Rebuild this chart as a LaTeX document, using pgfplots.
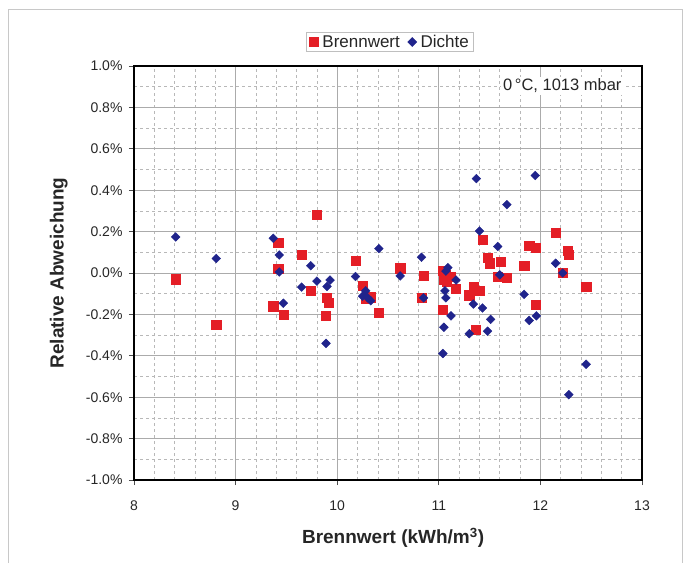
\documentclass[border=0pt]{standalone}
\usepackage{pgfplots}
\pgfplotsset{compat=1.18}
\usepackage{fontspec}
\setmainfont{Liberation Sans}
\definecolor{bwred}{RGB}{228,30,38}
\definecolor{dblue}{RGB}{32,36,140}
\definecolor{framegray}{RGB}{200,200,200}
\pgfplotstableread{
x y
8.41 -0.03
8.81 -0.25
9.37 -0.16
9.42 0.145
9.42 0.02
9.47 -0.20
9.65 0.087
9.74 -0.086
9.80 0.283
9.90 -0.12
9.92 -0.143
9.89 -0.207
10.18 0.061
10.25 -0.06
10.28 -0.126
10.33 -0.117
10.41 -0.19
10.62 0.023
10.85 -0.013
10.83 -0.12
11.04 0.01
11.05 -0.034
11.07 -0.01
11.08 -0.04
11.12 -0.016
11.17 -0.077
11.04 -0.176
11.30 -0.107
11.34 -0.068
11.40 -0.086
11.36 -0.273
11.43 0.162
11.48 0.074
11.50 0.047
11.58 -0.016
11.61 0.053
11.67 -0.022
11.84 0.035
11.89 0.131
11.95 0.123
11.95 -0.155
12.15 0.195
12.22 0.003
12.27 0.107
12.28 0.09
12.45 -0.065
}\brennwert
\pgfplotstableread{
x y
8.41 0.174
8.81 0.070
9.37 0.168
9.43 0.087
9.43 0.005
9.47 -0.146
9.65 -0.068
9.74 0.035
9.80 -0.039
9.90 -0.065
9.93 -0.034
9.89 -0.34
10.18 -0.017
10.25 -0.112
10.28 -0.086
10.30 -0.12
10.33 -0.134
10.41 0.118
10.62 -0.014
10.83 0.076
10.85 -0.12
11.04 -0.389
11.05 -0.262
11.06 -0.086
11.07 -0.12
11.07 0.009
11.09 0.026
11.12 -0.207
11.17 -0.034
11.30 -0.293
11.34 -0.15
11.37 0.456
11.40 0.203
11.43 -0.169
11.48 -0.281
11.51 -0.224
11.58 0.128
11.60 -0.009
11.67 0.330
11.84 -0.103
11.89 -0.229
11.95 0.471
11.96 -0.207
12.15 0.047
12.22 0.0
12.28 -0.588
12.45 -0.441
}\dichte
\begin{document}
\begin{tikzpicture}[x=1pt,y=1pt]
\useasboundingbox (0,0) rectangle (688,563);
\draw[framegray, line width=1pt] (8,0) -- (8,553) -- (682,553) -- (682,0);
\begin{axis}[
  at={(134pt,83pt)}, anchor=south west,
  scale only axis, width=508pt, height=414pt,
  xmin=8, xmax=13, ymin=-1, ymax=1,
  xtick={8,9,10,11,12,13},
  ytick={-1,-0.8,-0.6,-0.4,-0.2,0,0.2,0.4,0.6,0.8,1},
  yticklabels={-1.0\%,-0.8\%,-0.6\%,-0.4\%,-0.2\%,0.0\%,0.2\%,0.4\%,0.6\%,0.8\%,1.0\%},
  minor x tick num=4, minor y tick num=1,
  grid=both,
  major grid style={black!33, line width=0.7pt},
  minor grid style={black!28, line width=0.6pt, dash pattern=on 3pt off 3pt},
  axis line style={black, line width=1.8pt},
  tick align=outside, xtick pos=left, ytick pos=left,
  major tick length=5pt, minor tick length=0pt,
  tick style={black!70, line width=0.7pt},
  /pgf/number format/assume math mode=true,
  ticklabel style={font=\fontsize{14}{16}\selectfont, text=black!85},
  xticklabel style={yshift=-12pt},
  yticklabel style={xshift=-3pt},
  xlabel={Brennwert (kWh/m\textsuperscript{3})},
  ylabel={Relative Abweichung},
  label style={font=\bfseries\fontsize{19}{22}\selectfont, text=black!85},
  xlabel style={at={(axis description cs:0.51,-0.14)}, anchor=center},
  ylabel style={at={(axis description cs:-0.148,0.5)}, anchor=center},
  legend style={at={(axis description cs:0.504,1.058)}, anchor=center,
    draw=black!25, line width=0.8pt, legend columns=2,
    font=\fontsize{17}{19}\selectfont, text=black!85,
    inner xsep=3pt, inner ysep=1pt},
  legend cell align=left,
  /tikz/every even column/.append style={column sep=6pt},
]
\addplot[only marks, mark=square*, mark size=4.6pt, color=bwred, mark options={draw=bwred, fill=bwred}] table[x=x,y=y] {\brennwert};
\addlegendentry{\hspace{2pt}Brennwert}
\addplot[only marks, mark=square*, mark size=3.1pt, color=dblue, mark options={rotate=45, draw=dblue, fill=dblue}] table[x=x,y=y] {\dichte};
\addlegendentry{\hspace{2pt}Dichte}
\node[anchor=east, fill=white, inner sep=2pt, font=\fontsize{16.5}{19}\selectfont, text=black!85] at (axis cs:12.82,0.905) {0\,°C, 1013 mbar};
\end{axis}
\end{tikzpicture}
\end{document}
